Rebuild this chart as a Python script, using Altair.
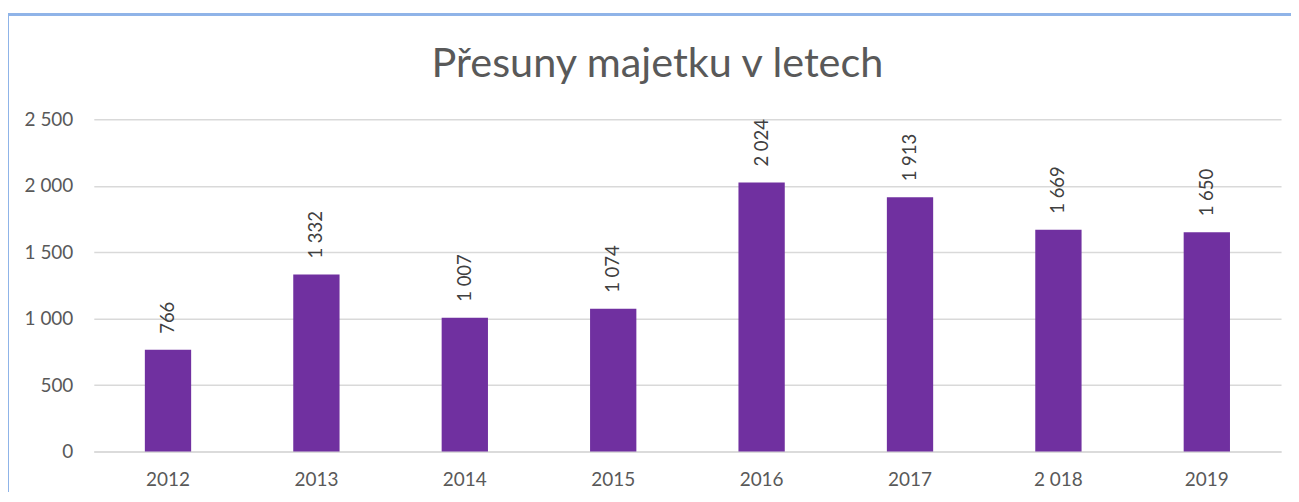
import altair as alt
import pandas as pd

years = ["2012", "2013", "2014", "2015", "2016", "2017", "2 018", "2019"]
values = [766, 1332, 1007, 1074, 2024, 1913, 1669, 1650]
value_labels = ["766", "1 332", "1 007", "1 074", "2 024", "1 913", "1 669", "1 650"]
title_text = "Přesuny majetku v letech"

df = pd.DataFrame({"year": years, "value": values, "label": value_labels})

FONT = "Lato"
GREY = "#595959"

x_enc = alt.X("year:N", sort=years, title=None,
              scale=alt.Scale(paddingInner=0.688, paddingOuter=0.344),
              axis=alt.Axis(labelAngle=0, labelFont=FONT, labelFontSize=19,
                            labelColor=GREY, labelPadding=19, ticks=False,
                            domainColor="#D9D9D9", domainWidth=1.5, grid=False))
y_enc = alt.Y("value:Q", title=None,
              scale=alt.Scale(domain=[0, 2500], nice=False),
              axis=alt.Axis(values=[0, 500, 1000, 1500, 2000, 2500],
                            labelExpr="replace(format(datum.value, ','), ',', ' ')",
                            labelFont=FONT, labelFontSize=19, labelColor=GREY,
                            labelPadding=21, ticks=False, domain=False,
                            gridColor="#D9D9D9", gridWidth=1.5))

bars = alt.Chart(df).mark_bar(color="#7030A0").encode(x=x_enc, y=y_enc)

texts = alt.Chart(df).mark_text(angle=270, align="left", baseline="middle",
                                dx=16, font=FONT, fontSize=18.5, color="#404040").encode(
    x=alt.X("year:N", sort=years),
    y=alt.Y("value:Q"),
    text="label:N",
)

title_df = pd.DataFrame({"t": [title_text]})
title = alt.Chart(title_df).mark_text(font=FONT, fontSize=41.5, fontWeight="normal",
                                      color=GREY, align="center",
                                      baseline="alphabetic").encode(
    x=alt.value(565), y=alt.value(-42), text="t:N")

border_top = alt.Chart(df).mark_rule(color="#8FB4E8", strokeWidth=2).encode(
    x=alt.value(-87), x2=alt.value(1230), y=alt.value(-105))
border_left = alt.Chart(df).mark_rule(color="#8FB4E8", strokeWidth=2).encode(
    x=alt.value(-86), y=alt.value(-106), y2=alt.value(400))

chart = alt.layer(bars, texts, title, border_top, border_left).properties(
    width=1190, height=333,
    autosize=alt.AutoSizeParams(type="none"),
    padding={"left": 86, "top": 111, "right": 10, "bottom": 40},
).configure_view(stroke=None)

chart.save("out.html", embed_options={"renderer": "svg", "actions": False})
